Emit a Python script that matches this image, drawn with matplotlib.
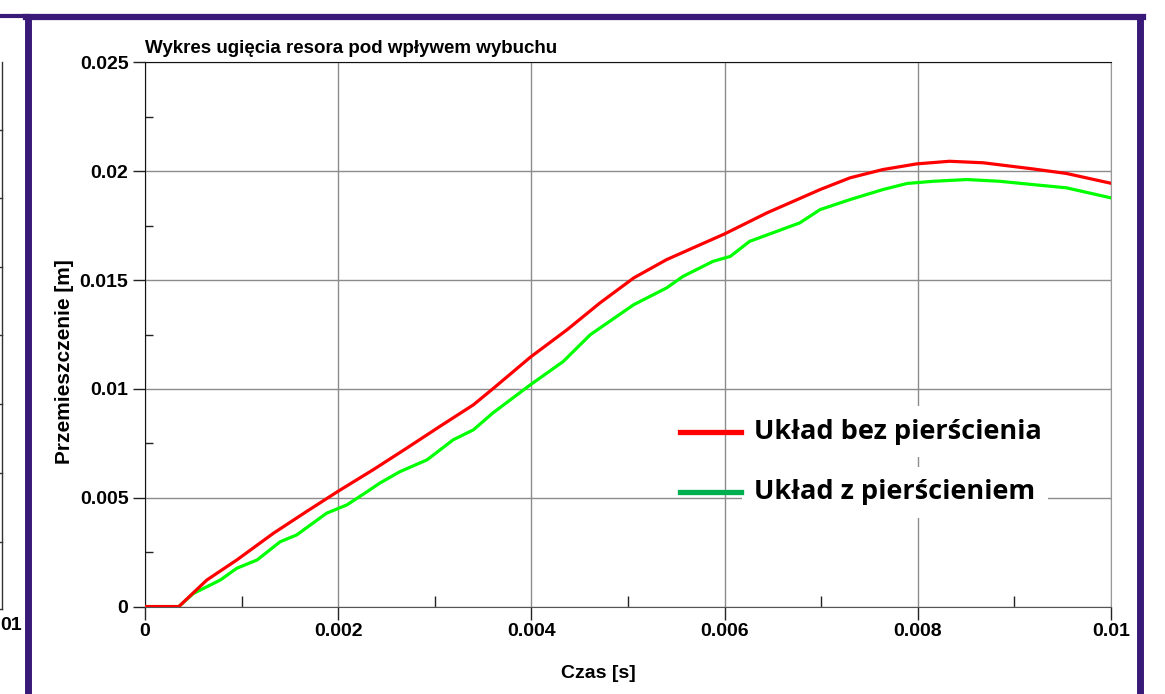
import numpy as np
import matplotlib
matplotlib.use('Agg')
import matplotlib.pyplot as plt
from matplotlib.lines import Line2D
from matplotlib.ticker import MultipleLocator

# dane
t_bez = [0, 0.00035, 0.00064, 0.00095, 0.00133, 0.00167, 0.002, 0.00236, 0.00271,
         0.00305, 0.0034, 0.0036, 0.00399, 0.00437, 0.00471, 0.00506, 0.0054,
         0.00575, 0.006, 0.00644, 0.00699, 0.0073, 0.00764, 0.00799, 0.00833,
         0.00868, 0.00919, 0.00954, 0.01]
y_bez = [0, 0, 0.00122, 0.00214, 0.00337, 0.00436, 0.0053, 0.00628, 0.00728,
         0.00827, 0.00927, 0.01, 0.01146, 0.01272, 0.01395, 0.0151, 0.01594,
         0.01663, 0.01712, 0.01809, 0.01916, 0.0197, 0.02008, 0.02034, 0.02046,
         0.02039, 0.02011, 0.0199, 0.01945]

t_z = [0, 0.00035, 0.0005, 0.00078, 0.00095, 0.00116, 0.0014, 0.00157, 0.00188,
       0.00209, 0.0023, 0.00243, 0.00264, 0.00292, 0.00319, 0.0034, 0.0036,
       0.00399, 0.00433, 0.00461, 0.00506, 0.0054, 0.00557, 0.00588, 0.00606,
       0.00626, 0.00678, 0.00699, 0.0073, 0.00764, 0.00789, 0.00816, 0.00851,
       0.00885, 0.00919, 0.00954, 0.01]
y_z = [0, 0, 0.0006, 0.00122, 0.00176, 0.00214, 0.00298, 0.00329, 0.00429,
       0.00467, 0.00528, 0.00567, 0.0062, 0.00674, 0.00766, 0.00812, 0.00889,
       0.01019, 0.01126, 0.01249, 0.01387, 0.01464, 0.01517, 0.01586, 0.01609,
       0.01678, 0.01763, 0.01824, 0.0187, 0.01916, 0.01944, 0.01954, 0.01962,
       0.01954, 0.01939, 0.01924, 0.01878]

x_ticks = [0, 0.002, 0.004, 0.006, 0.008, 0.01]
x_labels = ['0', '0.002', '0.004', '0.006', '0.008', '0.01']
y_ticks = [0, 0.005, 0.01, 0.015, 0.02, 0.025]
y_labels = ['0', '0.005', '0.01', '0.015', '0.02', '0.025']

narrow = ['Liberation Sans Narrow', 'Liberation Sans', 'DejaVu Sans']
purple = '#3a1a78'

fig = plt.figure(figsize=(11.65, 6.94), dpi=100)
ax = fig.add_axes([0.1245, 0.126, 0.829, 0.784])

ax.plot(t_z, y_z, color='#00ff00', lw=2.3, zorder=3)
ax.plot(t_bez, y_bez, color='#ff0000', lw=2.3, zorder=4)

ax.set_xlim(0, 0.01)
ax.set_ylim(0, 0.025)
ax.set_xticks(x_ticks)
ax.set_xticklabels(x_labels)
ax.set_yticks(y_ticks)
ax.set_yticklabels(y_labels)
ax.xaxis.set_minor_locator(MultipleLocator(0.001))
ax.yaxis.set_minor_locator(MultipleLocator(0.0025))
ax.tick_params(which='major', direction='out', length=9, width=1, color='#222222', pad=3)
ax.tick_params(which='minor', direction='in', length=8, width=1, color='#222222')
ax.tick_params(axis='y', which='minor', length=6)
for lab in ax.get_xticklabels() + ax.get_yticklabels():
    lab.set_family(narrow)
    lab.set_fontweight('bold')
    lab.set_fontsize(14)
ax.grid(True, which='major', color='#8c8c8c', lw=1)
ax.spines['left'].set_color('#111111')
ax.spines['top'].set_color('#111111')
ax.spines['bottom'].set_color('#555555')
ax.spines['right'].set_color('#999999')

ax.set_title('Wykres ugięcia resora pod wpływem wybuchu', loc='left', family=narrow,
             fontweight='bold', fontsize=13.5, pad=7)
ax.set_xlabel('Czas [s]', family=narrow, fontweight='bold', fontsize=14)
ax.xaxis.set_label_coords(0.469, -0.108)
ax.set_ylabel('Przemieszczenie [m]', family=narrow, fontweight='bold', fontsize=15)
ax.yaxis.set_label_coords(-0.074, 0.45)

# legenda w stylu oryginału
ax.add_line(Line2D([0.5535, 0.6175], [0.321, 0.321], transform=ax.transAxes,
                   color='#ff0000', lw=3.8, zorder=6))
ax.add_line(Line2D([0.5535, 0.6175], [0.210, 0.210], transform=ax.transAxes,
                   color='#00b050', lw=3.8, zorder=6))
box = dict(facecolor='white', edgecolor='none', pad=9)
ax.text(0.631, 0.321, 'Układ bez pierścienia', transform=ax.transAxes, va='center',
        fontsize=19.5, fontweight='bold', family=['Open Sans', 'DejaVu Sans'], bbox=box, zorder=5)
ax.text(0.631, 0.210, 'Układ z pierścieniem', transform=ax.transAxes, va='center',
        fontsize=19.5, fontweight='bold', family=['Open Sans', 'DejaVu Sans'], bbox=box, zorder=5)

# ramka slajdu
W, H = 1165, 694
def px(x, y):
    return x / W, 1 - y / H
fig.add_artist(Line2D([px(0, 0)[0], px(28, 0)[0]], [px(0, 15.5)[1]] * 2, color=purple, lw=3))
fig.add_artist(Line2D([px(26, 0)[0], px(1143, 0)[0]], [px(0, 17)[1]] * 2, color=purple, lw=4.5))
fig.add_artist(Line2D([px(28, 0)[0]] * 2, [px(0, 17)[1], px(0, 694)[1]], color=purple, lw=5))
fig.add_artist(Line2D([px(1140, 0)[0]] * 2, [px(0, 17)[1], px(0, 694)[1]], color=purple, lw=5))

# fragment sąsiedniego wykresu po lewej
fig.add_artist(Line2D([px(2, 0)[0]] * 2, [px(0, 62)[1], px(0, 609)[1]], color='#333333', lw=1))
for yy in [130, 198, 267, 335, 404, 473, 542, 609]:
    fig.add_artist(Line2D([px(0, 0)[0], px(2, 0)[0]], [px(0, yy)[1]] * 2, color='#333333', lw=1))
fig.text(px(0, 0)[0], px(0, 626)[1], '01', family=narrow, fontweight='bold', fontsize=14, va='center')

fig.savefig('out.png', dpi=100)
